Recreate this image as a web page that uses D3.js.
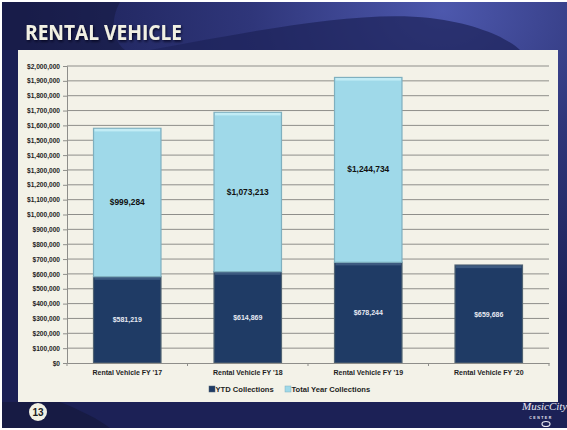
<!DOCTYPE html>
<html>
<head>
<meta charset="utf-8">
<script src="https://cdn.jsdelivr.net/npm/d3@7/dist/d3.min.js"></script>
<style>
  body { margin: 0; background: #fff; }
  svg { display: block; }
</style>
</head>
<body>
<svg id="chart" width="567" height="430"></svg>
<script>
// chart values
const categories = ["Rental Vehicle FY '17", "Rental Vehicle FY '18", "Rental Vehicle FY '19", "Rental Vehicle FY '20"];
const ytdCollections = [581219, 614869, 678244, 659686];
const totalYearCollections = [999284, 1073213, 1244734, 0];
const seriesNames = ["YTD Collections", "Total Year Collections"];
const yTickValues = [0, 100000, 200000, 300000, 400000, 500000, 600000, 700000, 800000, 900000, 1000000,
  1100000, 1200000, 1300000, 1400000, 1500000, 1600000, 1700000, 1800000, 1900000, 2000000];

const svg = d3.select("#chart");
const W = 567, H = 430;
const font = "'Liberation Sans', Arial, sans-serif";

// ---- slide background ----
const defs = svg.append("defs");
let bg = defs.append("radialGradient").attr("id", "bgGrad")
  .attr("cx", "0.78").attr("cy", "0.02").attr("r", "0.75");
bg.append("stop").attr("offset", "0").attr("stop-color", "#4d58ad");
bg.append("stop").attr("offset", "0.45").attr("stop-color", "#2f367a");
bg.append("stop").attr("offset", "1").attr("stop-color", "#1b2055");

let shadow = defs.append("filter").attr("id", "titleShadow")
  .attr("x", "-10%").attr("y", "-30%").attr("width", "130%").attr("height", "160%");
shadow.append("feDropShadow").attr("dx", 1).attr("dy", 1.5).attr("stdDeviation", 0.8)
  .attr("flood-color", "#05061a").attr("flood-opacity", 0.8);

svg.append("rect").attr("width", W).attr("height", H).attr("fill", "#ffffff");
svg.append("rect").attr("x", 2).attr("y", 2).attr("width", W - 2).attr("height", H - 4).attr("fill", "url(#bgGrad)");

// dark swoosh shapes
svg.append("path")
  .attr("d", "M2,2 L120,2 C110,20 112,40 125,50 L2,50 Z")
  .attr("fill", "#161a40").attr("opacity", 0.55);
svg.append("path")
  .attr("d", "M150,50 C260,30 360,10 430,18 C480,24 510,40 520,50 Z")
  .attr("fill", "#1c2258").attr("opacity", 0.7);
svg.append("path")
  .attr("d", "M2,402 L567,402 L567,428 L2,428 Z")
  .attr("fill", "#1d2258").attr("opacity", 0.5);
svg.append("path")
  .attr("d", "M60,402 C80,410 100,420 110,428 L2,428 L2,402 Z")
  .attr("fill", "#141838").attr("opacity", 0.6);

// title
svg.append("text")
  .attr("x", 25).attr("y", 40)
  .attr("font-family", "'Open Sans', " + font)
  .attr("font-weight", "bold").attr("font-size", 21)
  .attr("textLength", 157).attr("lengthAdjust", "spacingAndGlyphs")
  .attr("fill", "#f1f0e3")
  .attr("filter", "url(#titleShadow)")
  .text("RENTAL VEHICLE");

// chart panel
svg.append("rect").attr("x", 18).attr("y", 50).attr("width", 540).attr("height", 352).attr("fill", "#f3f2e8");

// ---- chart ----
const margin = { left: 67, right: 549, top: 66, bottom: 363 };

let x = d3.scaleBand(categories, [margin.left, margin.right]).paddingInner(0.44).paddingOuter(0.22);
let y = d3.scaleLinear([0, 2000000], [margin.bottom, margin.top]);

// gridlines
svg.append("g").selectAll("line")
  .data(yTickValues.slice(1))
  .join("line")
  .attr("x1", margin.left).attr("x2", margin.right)
  .attr("y1", d => y(d)).attr("y2", d => y(d))
  .attr("stroke", "#8e8e8a").attr("stroke-width", 1);

// y axis
let yAxis = svg.append("g")
  .attr("transform", "translate(" + margin.left + ",0)")
  .call(d3.axisLeft(y).tickValues(yTickValues).tickFormat(d3.format("$,")).tickSize(4).tickPadding(3));
yAxis.select(".domain").attr("stroke", "#8e8e8a");
yAxis.selectAll(".tick line").attr("stroke", "#8e8e8a");
yAxis.selectAll("text")
  .attr("font-family", font).attr("font-weight", "bold").attr("font-size", 6.6).attr("fill", "#1e1e1e");

// stacked data
let rows = categories.map((c, i) => ({ cat: c, ytd: ytdCollections[i], total: totalYearCollections[i] }));
let stacked = d3.stack().keys(["ytd", "total"])(rows);
let fills = ["#1f3b65", "#9fd9e9"];
let caps = ["#3d5a80", "#c2ecf5"];
let edges = ["#4f6272", "#7fb0bf"];
let labelColors = ["#e6e9f2", "#111111"];

stacked.forEach((layer, li) => {
  let g = svg.append("g");
  let segs = layer.filter(d => d[1] - d[0] > 0);

  // bar body with a little bevel
  g.selectAll("rect.body")
    .data(segs)
    .join("rect")
    .attr("class", "body")
    .attr("x", d => x(d.data.cat))
    .attr("y", d => y(d[1]))
    .attr("width", x.bandwidth())
    .attr("height", d => y(d[0]) - y(d[1]))
    .attr("fill", fills[li])
    .attr("stroke", edges[li]).attr("stroke-width", 1.2);

  g.selectAll("rect.cap")
    .data(segs)
    .join("rect")
    .attr("class", "cap")
    .attr("x", d => x(d.data.cat) + 1)
    .attr("y", d => y(d[1]) + 0.6)
    .attr("width", x.bandwidth() - 2)
    .attr("height", 2.5)
    .attr("fill", caps[li]);

  g.selectAll("text")
    .data(segs)
    .join("text")
    .attr("x", d => x(d.data.cat) + x.bandwidth() / 2)
    .attr("y", d => (y(d[0]) + y(d[1])) / 2 + 2.5)
    .attr("text-anchor", "middle")
    .attr("font-family", font).attr("font-weight", "bold")
    .attr("font-size", li === 0 ? 7 : 8.4)
    .attr("fill", labelColors[li])
    .text(d => d3.format("$,")(d[1] - d[0]));
});

// x axis
let xAxis = svg.append("g")
  .attr("transform", "translate(0," + margin.bottom + ")")
  .call(d3.axisBottom(x).tickSize(0).tickPadding(7));
xAxis.select(".domain").attr("stroke", "#8e8e8a");
xAxis.selectAll("text")
  .attr("font-family", font).attr("font-weight", "bold").attr("font-size", 7).attr("fill", "#1e1e1e");
// tick marks between categories
let bounds = d3.range(categories.length + 1).map(i => margin.left + i * (margin.right - margin.left) / categories.length);
svg.append("g").selectAll("line")
  .data(bounds)
  .join("line")
  .attr("x1", d => d).attr("x2", d => d)
  .attr("y1", margin.bottom).attr("y2", margin.bottom + 3)
  .attr("stroke", "#8e8e8a");

// legend
let legend = svg.append("g").attr("transform", "translate(209,386)");
let legendX = [0, 76];
seriesNames.forEach((name, i) => {
  legend.append("rect")
    .attr("x", legendX[i]).attr("y", 0).attr("width", 6).attr("height", 6)
    .attr("fill", fills[i]).attr("stroke", edges[i]).attr("stroke-width", 0.5);
  legend.append("text")
    .attr("x", legendX[i] + 6.5).attr("y", 6.2)
    .attr("font-family", font).attr("font-weight", "bold").attr("font-size", 7.6)
    .attr("fill", "#1e1e1e")
    .text(name);
});

// page number badge
svg.append("circle").attr("cx", 38).attr("cy", 412).attr("r", 9).attr("fill", "#f1f0e3");
svg.append("text")
  .attr("x", 38).attr("y", 415.5).attr("text-anchor", "middle")
  .attr("font-family", font).attr("font-weight", "bold").attr("font-size", 10)
  .attr("fill", "#1a1a1a").text("13");

// logo
svg.append("text")
  .attr("x", 522).attr("y", 410)
  .attr("font-family", "'Liberation Serif', serif").attr("font-style", "italic")
  .attr("font-size", 11).attr("fill", "#e8e8f2")
  .text("MusicCity");
svg.append("text")
  .attr("x", 541).attr("y", 419).attr("text-anchor", "middle")
  .attr("font-family", font).attr("font-weight", "bold").attr("font-size", 3.5)
  .attr("letter-spacing", 1.5).attr("fill", "#e8e8f2")
  .text("CENTER");
svg.append("ellipse").attr("cx", 546).attr("cy", 424).attr("rx", 4).attr("ry", 2.5)
  .attr("fill", "none").attr("stroke", "#e8e8f2").attr("stroke-width", 1.2);
</script>
</body>
</html>
